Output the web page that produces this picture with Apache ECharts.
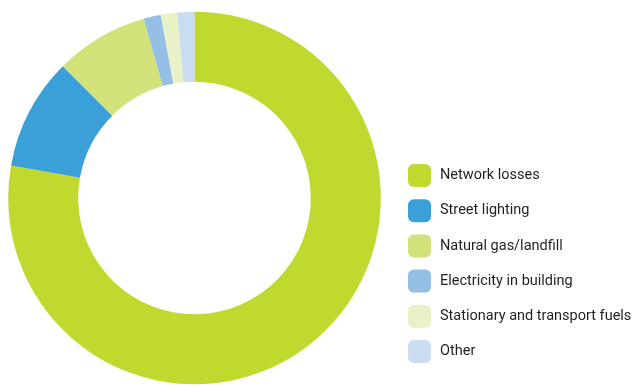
<!DOCTYPE html>
<html>
<head>
<meta charset="utf-8">
<script src="https://cdn.jsdelivr.net/npm/echarts@6/dist/echarts.min.js"></script>
<style>
  html, body { margin: 0; padding: 0; background: #ffffff; }
  #chart { width: 634px; height: 386px; }
</style>
</head>
<body>
<div id="chart"></div>
<script>
// Emission sources, share of total (%)
const categories = [
  'Network losses',
  'Street lighting',
  'Natural gas/landfill',
  'Electricity in building',
  'Stationary and transport fuels',
  'Other'
];
const shares = [77.8, 9.7, 8.1, 1.5, 1.4, 1.5];
const colors = ['#c1d82f', '#3b9fd8', '#d3e17a', '#94c0e6', '#e9f1c6', '#c8ddf1'];

const chart = echarts.init(document.getElementById('chart'), null, { renderer: 'canvas' });

chart.setOption({
  animation: false,
  color: colors,
  legend: {
    orient: 'vertical',
    left: 403,
    top: 159,
    icon: 'roundRect',
    itemWidth: 23,
    itemHeight: 23,
    itemGap: 12.2,
    selectedMode: false,
    textStyle: {
      fontFamily: 'Roboto, sans-serif',
      fontSize: 14.5,
      color: '#231f20',
      padding: [3, 0, 0, 4]
    },
    data: categories
  },
  series: [{
    type: 'pie',
    center: [194.5, 198],
    radius: [116.3, 186.3],
    startAngle: 90,
    clockwise: true,
    label: { show: false },
    labelLine: { show: false },
    emphasis: { disabled: true },
    itemStyle: { borderWidth: 0 },
    data: categories.map((name, i) => ({ name, value: shares[i] }))
  }]
});
</script>
</body>
</html>
